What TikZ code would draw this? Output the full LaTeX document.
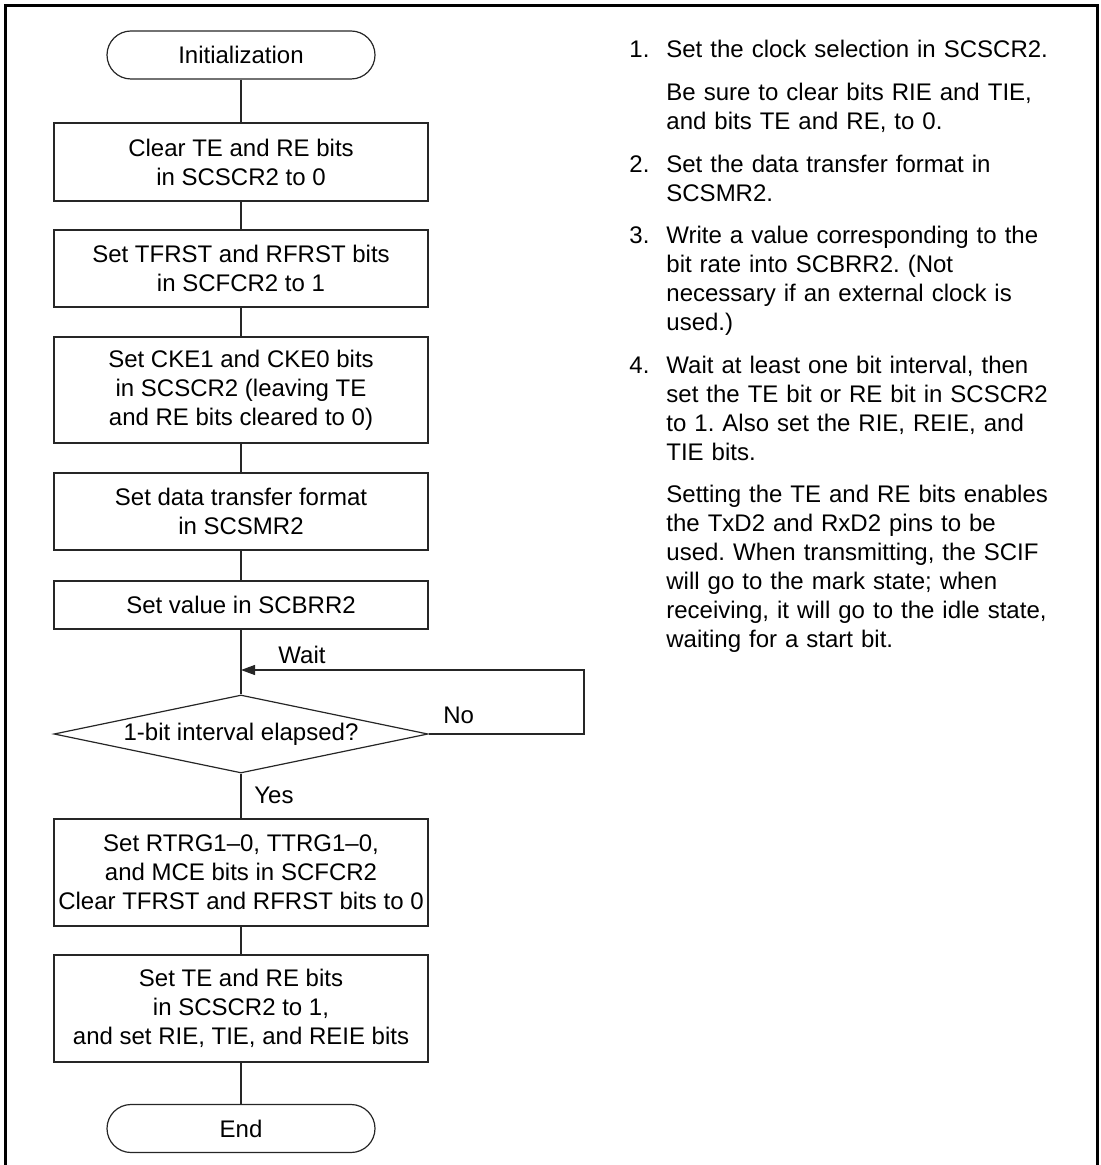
\documentclass[tikz,border=0pt]{standalone}
\usepackage{fontspec}
\setmainfont{Liberation Sans}
\usetikzlibrary{shapes.geometric, arrows.meta}
\frenchspacing
\newcommand{\notenum}[1]{\hspace*{-18.5pt}\makebox[18.5pt][l]{#1}}

\begin{document}
\begin{tikzpicture}[x=0.5pt, y=-0.5pt,
  every node/.style={font=\fontsize{12}{14.5}\selectfont},
  term/.style={draw=black!85, line width=0.6pt, rounded corners=12pt,
               minimum width=134pt, minimum height=24pt, inner sep=0pt},
  proc/.style={draw=black!85, line width=0.6pt, minimum width=187pt,
               align=center, inner sep=0pt},
  decide/.style={draw=black!85, line width=0.6pt, diamond, aspect=4.8,
                 minimum width=187pt, minimum height=39pt, inner sep=0pt},
  flow/.style={black!85, line width=0.6pt},
  back/.style={flow, -{Triangle[length=7pt, width=5pt]}},
  lbl/.style={anchor=base west, inner sep=0pt},
  notes/.style={anchor=base west, text width=225pt, align=left, inner sep=0pt},
  frame/.style={line width=1.5pt}]
  \useasboundingbox (0,0) rectangle (1100,1165);
  % outer frame, open at the bottom
  \draw[frame] (5,1180) |- (1097,6) -- (1097,1180);
  % flow chart
  \node[term] (init) at (241,55) {Initialization};
  \node[proc, minimum height=39pt] (clrte) at (241,162)
    {Clear TE and RE bits\\in SCSCR2 to 0};
  \node[proc, minimum height=38.5pt] (fifo) at (241,268.5)
    {Set TFRST and RFRST bits\\in SCFCR2 to 1};
  \node[proc, minimum height=53pt] (cke) at (241,390)
    {Set CKE1 and CKE0 bits\\in SCSCR2 (leaving TE\\and RE bits cleared to 0)};
  \node[proc, minimum height=38.5pt] (smr) at (241,511.5)
    {Set data transfer format\\in SCSMR2};
  \node[proc, minimum height=24pt] (brr) at (241,605) {Set value in SCBRR2};
  \node[decide] (ask) at (241,734) {1-bit interval elapsed?};
  \node[proc, minimum height=53.5pt] (trg) at (241,872.5)
    {Set RTRG1–0, TTRG1–0,\\and MCE bits in SCFCR2\\Clear TFRST and RFRST bits to 0};
  \node[proc, minimum height=53.5pt] (enable) at (241,1008.5)
    {Set TE and RE bits\\in SCSCR2 to 1,\\and set RIE, TIE, and REIE bits};
  \node[term] (fin) at (241,1128.5) {End};
  \foreach \a/\b in {init/clrte, clrte/fifo, fifo/cke, cke/smr, smr/brr,
                     brr/ask, ask/trg, trg/enable, enable/fin}
    \draw[flow] (\a) -- (\b);
  % wait loop
  \coordinate (waitpt) at (241,670);
  \coordinate (loopturn) at (584,670);
  \draw[back] (ask.east) -| (loopturn) -- (waitpt);
  \node[lbl] (lblwait) at (278,663) {Wait};
  \node[lbl] (lblno) at (443,723) {No};
  \node[lbl] (lblyes) at (254,803) {Yes};
  % notes
  \node[notes] (notes) at (629,58) {\leftskip=18.5pt
    \notenum{1.}Set the clock selection in SCSCR2.\\[6.8pt]
    Be sure to clear bits RIE and TIE,\\
    and bits TE and RE, to 0.\\[6.8pt]
    \notenum{2.}Set the data transfer format in\\
    SCSMR2.\\[6.8pt]
    \notenum{3.}Write a value corresponding to the\\
    bit rate into SCBRR2. (Not\\
    necessary if an external clock is\\
    used.)\\[6.8pt]
    \notenum{4.}Wait at least one bit interval, then\\
    set the TE bit or RE bit in SCSCR2\\
    to 1. Also set the RIE, REIE, and\\
    TIE bits.\\[6.8pt]
    Setting the TE and RE bits enables\\
    the TxD2 and RxD2 pins to be\\
    used. When transmitting, the SCIF\\
    will go to the mark state; when\\
    receiving, it will go to the idle state,\\
    waiting for a start bit.\par};
\end{tikzpicture}
\end{document}
